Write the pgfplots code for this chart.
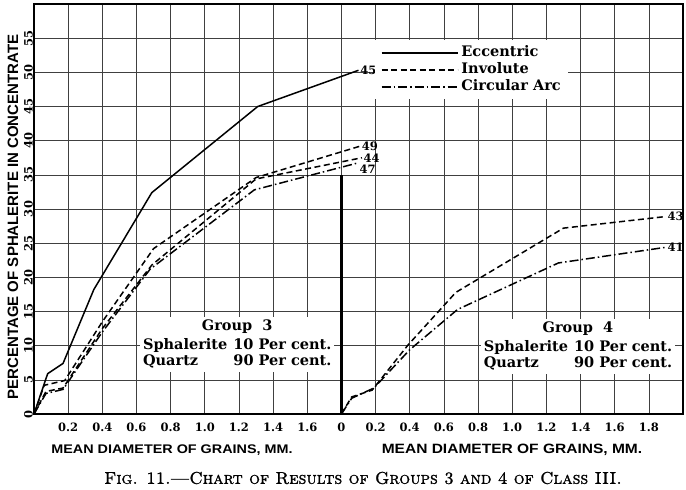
\documentclass[border=0pt]{standalone}
\usepackage{pgfplots}
\pgfplotsset{compat=1.18}
\usepackage{fontspec}
\newfontfamily\dser{DejaVu Serif}
\newfontfamily\gothic{Liberation Sans}
\newfontfamily\capfont{lmroman10-regular.otf}[SmallCapsFont=lmromancaps10-regular.otf, FakeBold=1.3, SmallCapsFeatures={FakeBold=1.3}]
\begin{document}
\begin{tikzpicture}
\path[use as bounding box] (-34bp,-76bp) rectangle (652bp,414bp);
\begin{axis}[
  at={(0,0)}, anchor=south west,
  scale only axis, width=649bp, height=410bp,
  xmin=0, xmax=3.8, ymin=0, ymax=60,
  xtick={0.2,0.4,0.6,0.8,1.0,1.2,1.4,1.6,1.8,2.0,2.2,2.4,2.6,2.8,3.0,3.2,3.4,3.6},
  xticklabels={0.2,0.4,0.6,0.8,1.0,1.2,1.4,1.6,0,0.2,0.4,0.6,0.8,1.0,1.2,1.4,1.6,1.8},
  ytick={0,5,10,15,20,25,30,35,40,45,50,55},
  yticklabels={0,5,10,15,20,25,30,35,40,45,50,55},
  grid=major,
  major grid style={black!75, line width=0.6bp},
  major tick length=0pt,
  axis line style={line width=1.1bp},
  tick label style={font=\dser\bfseries\fontsize{11.5bp}{11.5bp}\selectfont},
  xticklabel style={yshift=-5bp},
  yticklabel style={rotate=90, anchor=south, inner sep=1bp},
  legend style={at={(0.525,0.912)}, anchor=north west, draw=none, fill=white,
    font=\dser\bfseries\fontsize{14.5bp}{14.5bp}\selectfont, inner xsep=6bp, inner ysep=4bp,
    row sep=0pt, column sep=2bp,
    nodes={inner sep=1bp, text height=11bp, text depth=4bp}},
  legend cell align=left,
  legend image code/.code={\draw[#1] (0bp,0bp) -- (76bp,0bp);},
  every axis plot/.append style={line width=1.5bp, black},
]
% thick zero line of group 4
\addplot[forget plot, line width=2.4bp] coordinates {(1.8,0) (1.8,35)};

% Group 3
\addplot[solid] coordinates {(0,0) (0.08,5.9) (0.17,7.4) (0.35,18.2) (0.69,32.4) (1.31,45) (1.90,50.3)}
  node[pos=1, right, inner sep=1bp, font=\dser\bfseries\fontsize{11.5bp}{11.5bp}\selectfont]{45};
\addlegendentry{Eccentric}
\addplot[dash pattern=on 6bp off 3.5bp] coordinates {(0,0) (0.06,4.2) (0.18,4.9) (0.4,13.5) (0.7,24.2) (1.3,34.6) (1.91,39.2)}
  node[pos=1, right, inner sep=1bp, font=\dser\bfseries\fontsize{11.5bp}{11.5bp}\selectfont]{49};
\addlegendentry{Involute}
\addplot[dash pattern=on 9bp off 3bp on 1.5bp off 3bp] coordinates {(0,0) (0.07,3.0) (0.17,3.6) (0.4,12) (0.68,21.2) (1.29,32.8) (1.89,36.7)}
  node[pos=1, anchor=north west, inner sep=1bp, xshift=1bp, font=\dser\bfseries\fontsize{11.5bp}{11.5bp}\selectfont]{47};
\addlegendentry{Circular Arc}
\addplot[forget plot, dash pattern=on 6bp off 3.5bp] coordinates {(0,0) (0.07,3.3) (0.17,3.8) (0.4,12.5) (0.69,21.8) (1.3,34.4) (1.92,37.5)}
  node[pos=1, right, inner sep=1bp, font=\dser\bfseries\fontsize{11.5bp}{11.5bp}\selectfont]{44};

% Group 4
\addplot[forget plot, dash pattern=on 6bp off 3.5bp] coordinates {(1.8,0) (1.86,2.5) (1.98,3.5) (2.19,10.1) (2.47,17.8) (3.10,27.2) (3.70,28.9)}
  node[pos=1, right, inner sep=1bp, font=\dser\bfseries\fontsize{11.5bp}{11.5bp}\selectfont]{43};
\addplot[forget plot, dash pattern=on 9bp off 3bp on 1.5bp off 3bp] coordinates {(1.8,0) (1.86,2.3) (1.99,3.8) (2.2,9.4) (2.48,15.3) (3.07,22.1) (3.70,24.4)}
  node[pos=1, right, inner sep=1bp, font=\dser\bfseries\fontsize{11.5bp}{11.5bp}\selectfont]{41};

% group boxes
\node[fill=white, inner xsep=3bp, inner ysep=2bp, font=\dser\bfseries\fontsize{14.5bp}{16bp}\selectfont]
  at (axis cs:1.19,10.1) {\begin{tabular}{@{}l@{\hspace{6bp}}r@{}}\multicolumn{2}{c}{Group\ \ 3}\\[3bp] Sphalerite & 10 Per cent.\\ Quartz & 90 Per cent.\end{tabular}};
\node[fill=white, inner xsep=3bp, inner ysep=2bp, font=\dser\bfseries\fontsize{14.5bp}{16bp}\selectfont]
  at (axis cs:3.185,9.9) {\begin{tabular}{@{}l@{\hspace{6bp}}r@{}}\multicolumn{2}{c}{Group\ \ 4}\\[3bp] Sphalerite & 10 Per cent.\\ Quartz & 90 Per cent.\end{tabular}};
\end{axis}
\node[rotate=90, font=\gothic\bfseries\fontsize{15bp}{15bp}\selectfont] at (-21bp,197bp) {PERCENTAGE OF SPHALERITE IN CONCENTRATE};
\node[xscale=1.15, font=\gothic\bfseries\fontsize{12.5bp}{12.5bp}\selectfont] at (138bp,-36bp) {MEAN DIAMETER OF GRAINS, MM.};
\node[xscale=1.15, font=\gothic\bfseries\fontsize{13.5bp}{13.5bp}\selectfont] at (478bp,-36bp) {MEAN DIAMETER OF GRAINS, MM.};
\node[font=\capfont\fontsize{17bp}{17bp}\selectfont] at (329bp,-64bp) {\textsc{Fig. 11.—Chart of Results of Groups 3 and 4 of Class III.}};
\end{tikzpicture}
\end{document}
